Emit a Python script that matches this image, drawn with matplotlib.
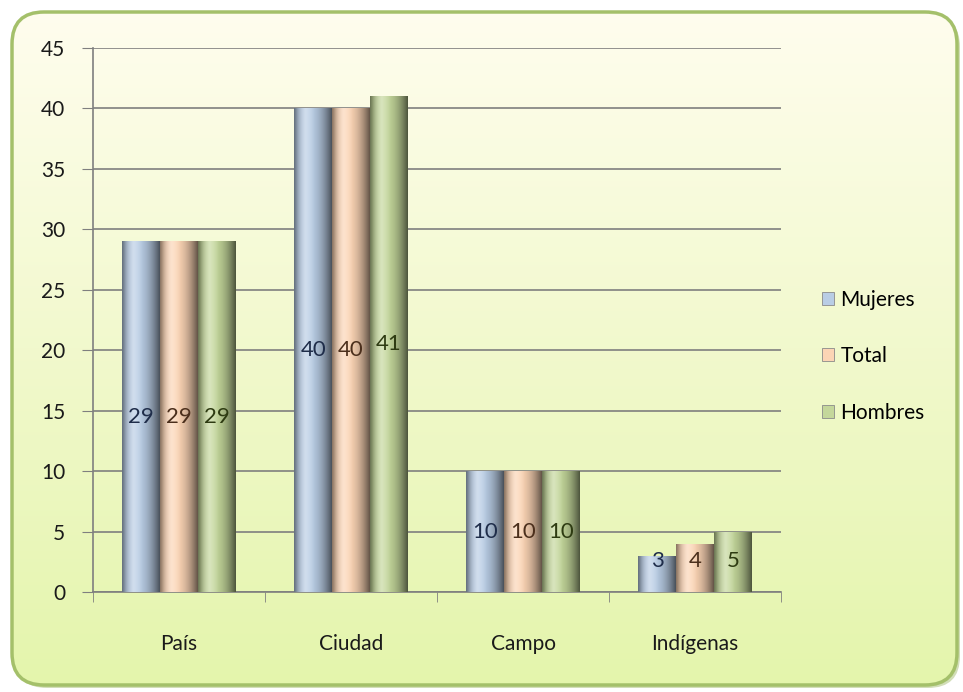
import numpy as np
import matplotlib.pyplot as plt
from matplotlib.patches import FancyBboxPatch, Patch
from matplotlib.colors import to_rgb

categories = ['País', 'Ciudad', 'Campo', 'Indígenas']
series_names = ['Mujeres', 'Total', 'Hombres']
mujeres = [29, 40, 10, 3]
total = [29, 40, 10, 4]
hombres = [29, 41, 10, 5]
y_ticks = list(range(0, 50, 5))

series_values = [mujeres, total, hombres]
bar_colors = ['#b9cde5', '#fcd5b5', '#c4d79b']
label_colors = ['#1f2d4a', '#4b2f1c', '#2e3b12']

plt.rcParams['font.family'] = ['Lato', 'DejaVu Sans']

fig = plt.figure(figsize=(9.63, 6.92), dpi=100)

# background panel with rounded green border
bg = fig.add_axes([0, 0, 1, 1])
bg.set_xlim(0, 963)
bg.set_ylim(0, 692)
bg.axis('off')
shadow = FancyBboxPatch((15, 4), 945, 673, boxstyle='round,pad=0,rounding_size=32',
                        facecolor='#b5c98a', edgecolor='none', alpha=0.6)
bg.add_patch(shadow)
panel = FancyBboxPatch((12, 7), 945, 673, boxstyle='round,pad=0,rounding_size=32',
                       facecolor='none', edgecolor='#a4c06a', linewidth=2.5, zorder=3)
bg.add_patch(panel)
top_c = np.array(to_rgb('#fffdee'))
bot_c = np.array(to_rgb('#e4f5ac'))
t = np.linspace(0, 1, 256)[:, None]
grad = (top_c * (1 - t) + bot_c * t)[:, None, :]
grad = np.repeat(grad, 2, axis=1)
im = bg.imshow(grad, extent=[12, 957, 7, 680], aspect='auto', origin='upper', zorder=1)
im.set_clip_path(panel)

ax = fig.add_axes([93 / 963, 100 / 692, 688 / 963, 544 / 692])
ax.set_facecolor('none')

x = np.arange(len(categories))
width = 0.22
offsets = [-width, 0, width]

# horizontal shading profile to give the bars a rounded look
u = np.linspace(0, 1, 64)
shade = 1.0 - 0.6 * ((u - 0.35) / 0.65) ** 2
shade = np.where(u < 0.35, 1.0 - 0.45 * ((0.35 - u) / 0.35) ** 2, shade)
light = np.clip(1 - np.abs(u - 0.3) / 0.25, 0, 1) * 0.35

for vals, off, col, lcol in zip(series_values, offsets, bar_colors, label_colors):
    bars = ax.bar(x + off, vals, width, color=col, zorder=3, linewidth=0)
    base = np.array(to_rgb(col))
    rgb = base[None, :] * shade[:, None]
    rgb = rgb + (1 - rgb) * light[:, None]
    img = np.clip(rgb, 0, 1)[None, :, :]
    for b in bars:
        bx, bw, bh = b.get_x(), b.get_width(), b.get_height()
        shim = ax.imshow(img, extent=[bx, bx + bw, 0, bh], aspect='auto', zorder=4)
        shim.set_clip_path(b)
    for xi, v in zip(x + off, vals):
        ax.text(xi, max(v / 2, 2.6), str(v), ha='center', va='center',
                fontsize=16, color=lcol, zorder=5)

ax.set_xlim(-0.5, len(categories) - 0.5)
ax.set_ylim(0, 45)
ax.set_yticks(y_ticks)
ax.yaxis.grid(True, color='#7f7f7f', linewidth=1.2, zorder=0)
ax.set_axisbelow(True)

ax.set_xticks(x)
ax.set_xticklabels(categories)
ax.set_xticks(np.arange(-0.5, len(categories)), minor=True)
ax.tick_params(axis='x', which='major', length=0, pad=30, labelsize=15, labelcolor='#1a1a1a')
ax.tick_params(axis='x', which='minor', length=7, direction='out', color='#7f7f7f')
ax.tick_params(axis='y', length=8, direction='out', color='#7f7f7f', labelsize=15,
               labelcolor='#1a1a1a', pad=12)

for side in ['top', 'right']:
    ax.spines[side].set_visible(False)
for side in ['left', 'bottom']:
    ax.spines[side].set_color('#7f7f7f')
    ax.spines[side].set_linewidth(1.2)

handles = [Patch(facecolor=c, edgecolor='#8a8a8a', linewidth=0.6) for c in bar_colors]
fig.legend(handles, series_names, loc='upper left', bbox_to_anchor=(803 / 963, 421 / 692),
           frameon=False, fontsize=15, handlelength=0.6, handleheight=0.6,
           handletextpad=0.3, labelspacing=1.75)

fig.savefig('out.png', dpi=100)
